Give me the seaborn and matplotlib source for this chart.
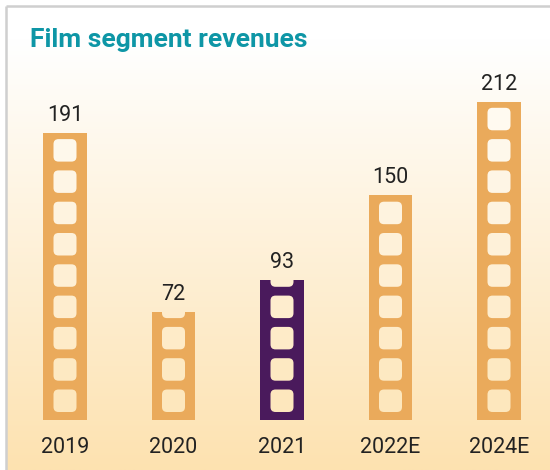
import numpy as np
import pandas as pd
import matplotlib
matplotlib.use("Agg")
import matplotlib.pyplot as plt
import seaborn as sns
from matplotlib.patches import FancyBboxPatch
from matplotlib.colors import to_rgb

categories = ["2019", "2020", "2021", "2022E", "2024E"]
revenues = [191, 72, 93, 150, 212]
highlight = "2021"

sns.set_theme(style="white")
plt.rcParams['font.family'] = ['Roboto', 'DejaVu Sans']

W, H = 550, 470
fig = plt.figure(figsize=(5.5, 4.7), dpi=100)

# background gradient
top_c = np.array(to_rgb("#FFFFFF"))
bot_c = np.array(to_rgb("#FDE2B0"))
g_start = 40 / H  # fraction from top where gradient starts


def bg_color(yfrac_from_top):
    t = np.clip((yfrac_from_top - g_start) / (1 - g_start), 0, 1)
    return top_c * (1 - t) + bot_c * t

rows = np.linspace(0, 1, 400)
grad = np.array([bg_color(r) for r in rows])[:, None, :]
bg = fig.add_axes([0, 0, 1, 1], zorder=0)
bg.imshow(grad, aspect="auto", extent=(0, 1, 0, 1))
bg.set_axis_off()
# border (left + top)
bg.plot([5.5 / W, 5.5 / W], [0, 1 - 5.5 / H], color="#CFCFCF", lw=1.8,
        transform=fig.transFigure, solid_capstyle="butt")
bg.plot([5.5 / W, 1], [1 - 5.5 / H, 1 - 5.5 / H], color="#CFCFCF", lw=1.8,
        transform=fig.transFigure, solid_capstyle="butt")
# white outside border
bg.fill_between([0, 1], [1 - 5 / H] * 2, [1, 1], color="white", transform=fig.transFigure)
bg.fill_between([0, 4.6 / W], [0, 0], [1, 1], color="white", transform=fig.transFigure)

ax_bottom_px = 420
ax_top_px = 60
px_per_unit = 1.502
ymax = (ax_bottom_px - ax_top_px) / px_per_unit
ax = fig.add_axes([6 / W, (H - ax_bottom_px) / H, (548 - 6) / W,
                   (ax_bottom_px - ax_top_px) / H], zorder=1)
ax.patch.set_alpha(0)

df = pd.DataFrame({"year": categories, "revenue": revenues})
palette = {c: ("#4A1A5C" if c == highlight else "#EAAA5B") for c in categories}
sns.barplot(data=df, x="year", y="revenue", hue="year", palette=palette,
            width=0.40, ax=ax, legend=False, saturation=1, linewidth=0)

x0 = (6 - 65) / 108.5
x1 = (548 - 65) / 108.5
ax.set_xlim(x0, x1)
ax.set_ylim(0, ymax)

# film holes
hole_w = 23 / 108.5
hole_h = 22.5 / px_per_unit
pitch = 31.3 / px_per_unit
pad = 8 / px_per_unit
rad_x = 5 / 108.5
for i, (cat, val) in enumerate(zip(categories, revenues)):
    b = pad
    bar_patch = ax.patches[i]
    while b < val:
        top = min(b + hole_h, val)
        yc_px = ax_bottom_px - (b + top) / 2 * px_per_unit
        col = bg_color(yc_px / H)
        hp = FancyBboxPatch((i - hole_w / 2, b), hole_w, hole_h,
                            boxstyle="round,pad=0,rounding_size=%f" % rad_x,
                            mutation_aspect=(108.5 / px_per_unit),
                            facecolor=col, edgecolor="none", zorder=3)
        ax.add_patch(hp)
        hp.set_clip_path(bar_patch)
        b += pitch

for i, val in enumerate(revenues):
    ax.annotate(str(val), (i, val), xytext=(0, 5), textcoords="offset points",
                ha="center", va="bottom", fontsize=15.5, color="#222222")

ax.set_xlabel("")
ax.set_ylabel("")
ax.set_yticks([])
ax.tick_params(axis="x", length=0, pad=12, labelsize=15.5, labelcolor="#222222")
sns.despine(ax=ax, left=True, bottom=True)

fig.text(30 / W, 1 - 47 / H, "Film segment revenues", fontsize=19,
         fontweight="bold", color="#0E96A6", ha="left", va="baseline")

fig.savefig("out.png", dpi=100)
